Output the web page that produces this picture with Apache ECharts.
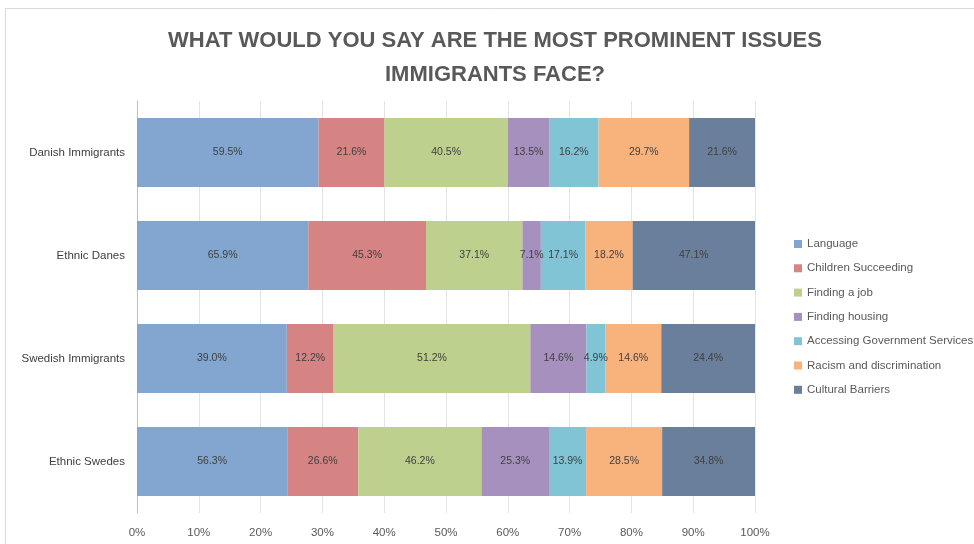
<!DOCTYPE html>
<html>
<head>
<meta charset="utf-8">
<script src="https://cdn.jsdelivr.net/npm/echarts@6/dist/echarts.min.js"></script>
<style>
html, body { margin: 0; padding: 0; background: #fff; }
#chart { width: 974px; height: 544px; }
</style>
</head>
<body>
<div id="chart"></div>
<script>
var groups = ['Danish Immigrants', 'Ethnic Danes', 'Swedish Immigrants', 'Ethnic Swedes'];
var issues = ['Language', 'Children Succeeding', 'Finding a job', 'Finding housing',
    'Accessing Government Services', 'Racism and discrimination', 'Cultural Barriers'];
var language = [59.5, 65.9, 39.0, 56.3];
var children = [21.6, 45.3, 12.2, 26.6];
var findingJob = [40.5, 37.1, 51.2, 46.2];
var housing = [13.5, 7.1, 14.6, 25.3];
var government = [16.2, 17.1, 4.9, 13.9];
var racism = [29.7, 18.2, 14.6, 28.5];
var cultural = [21.6, 47.1, 24.4, 34.8];
var xTicks = ['0%', '10%', '20%', '30%', '40%', '50%', '60%', '70%', '80%', '90%', '100%'];

var colors = ['#82a6cf', '#d58383', '#bdd08d', '#a690bd', '#80c4d5', '#f8b37d', '#6a7f9b'];
var raw = [language, children, findingJob, housing, government, racism, cultural];

// totals per group, bars are shown as share of the total (100% stacked)
var totals = groups.map(function (g, i) {
    var s = 0;
    raw.forEach(function (arr) { s += arr[i]; });
    return s;
});

var series = raw.map(function (arr, k) {
    return {
        name: issues[k],
        type: 'bar',
        stack: 'all',
        barWidth: '67%',
        itemStyle: { color: colors[k] },
        label: {
            show: true,
            position: 'inside',
            color: '#404040',
            fontSize: 10.5,
            fontFamily: 'Liberation Sans',
            formatter: function (p) { return arr[p.dataIndex].toFixed(1) + '%'; }
        },
        data: arr.map(function (v, i) { return v / totals[i] * 100; })
    };
});

var myChart = echarts.init(document.getElementById('chart'));
var option = {
    backgroundColor: '#fff',
    animation: false,
    graphic: [{
        type: 'rect',
        shape: { x: 5.5, y: 8.5, width: 980, height: 560 },
        style: { fill: 'none', stroke: '#d9d9d9', lineWidth: 1 },
        silent: true
    }],
    title: {
        text: 'WHAT WOULD YOU SAY ARE THE MOST PROMINENT ISSUES\nIMMIGRANTS FACE?',
        left: 490,
        textAlign: 'center',
        top: 19,
        textStyle: {
            color: '#595959',
            fontSize: 22,
            fontWeight: 'bold',
            fontFamily: 'Liberation Sans',
            lineHeight: 34
        }
    },
    legend: {
        orient: 'vertical',
        left: 789,
        top: 233,
        itemWidth: 8,
        itemHeight: 8,
        itemGap: 12.3,
        icon: 'rect',
        data: issues,
        textStyle: {
            color: '#595959',
            fontSize: 11.5,
            fontFamily: 'Liberation Sans'
        }
    },
    grid: {
        left: 137,
        right: 219,
        top: 101,
        bottom: 31,
        containLabel: false
    },
    xAxis: {
        type: 'value',
        min: 0,
        max: 100,
        interval: 10,
        axisLine: { show: false },
        axisTick: { show: false },
        splitLine: { show: true, lineStyle: { color: '#e3e3e3', width: 1 } },
        axisLabel: {
            color: '#595959',
            fontSize: 11.5,
            margin: 14,
            fontFamily: 'Liberation Sans',
            formatter: function (v) { return xTicks[Math.round(v / 10)]; }
        }
    },
    yAxis: {
        type: 'category',
        inverse: true,
        data: groups,
        axisLine: { show: true, lineStyle: { color: '#bfbfbf' } },
        axisTick: { show: false },
        axisLabel: {
            color: '#404040',
            fontSize: 11.5,
            margin: 12,
            fontFamily: 'Liberation Sans'
        }
    },
    series: series
};
myChart.setOption(option);
</script>
</body>
</html>
